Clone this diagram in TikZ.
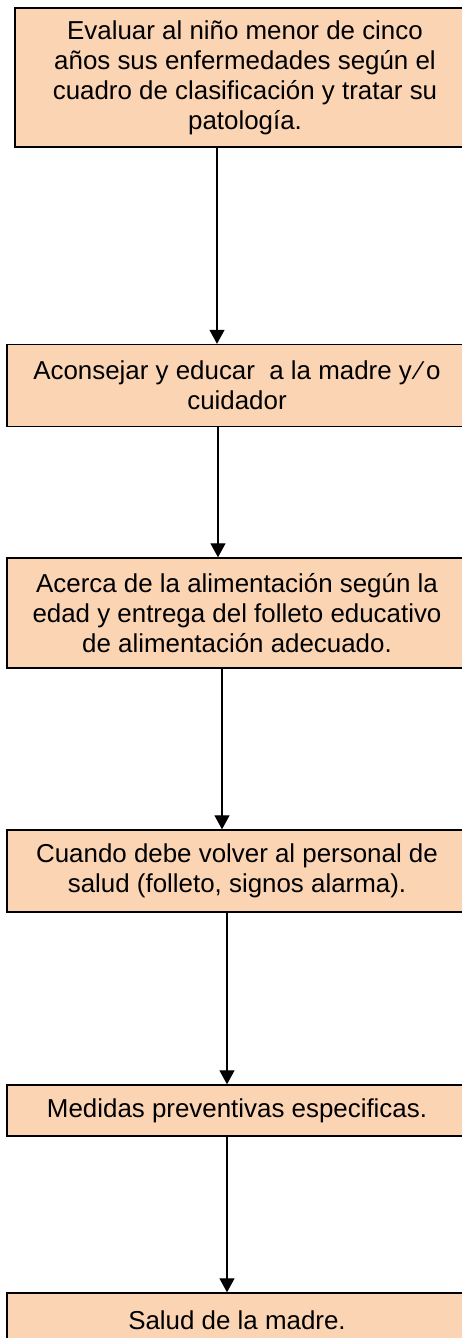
\documentclass[tikz,border=0pt]{standalone}
\usepackage{fontspec}
\setmainfont{Liberation Sans}
\usetikzlibrary{arrows.meta}
\definecolor{peach}{HTML}{FBD4B4}

\begin{document}
\begin{tikzpicture}[x=1pt,y=1pt,
    caja/.style={draw,line width=1.4pt,fill=peach,minimum width=460pt,inner sep=0pt,
        align=center,font=\fontsize{25.9pt}{30pt}\selectfont},
    flecha/.style={-{Triangle[width=15pt,length=14pt]},line width=1.3pt}]
        \useasboundingbox (0,0) rectangle (462,-1338);
        \node[caja,minimum height=139pt](b1)at(245,-77.5){Evaluar al niño menor de cinco\\años sus enfermedades según el\\cuadro de clasificación y tratar su\\patología.};
        \node[caja,minimum height=82pt](b2)at(237,-385.5){Aconsejar y educar \ a la madre y\kern5pt⁄\kern5pt o\\cuidador};
        \node[caja,minimum height=110pt](b3)at(237,-613){Acerca de la alimentación según la\\edad y entrega del folleto educativo\\de alimentación adecuado.};
        \node[caja,minimum height=82pt](b4)at(237,-871){Cuando debe volver al personal de\\salud (folleto, signos alarma).};
        \node[caja,minimum height=51pt](b5)at(237,-1110.5){Medidas preventivas especificas.};
        \node[caja,minimum height=54pt](b6)at(237,-1320){Salud de la madre.};

        \draw[flecha]([xshift=-28pt]b1.south)--([xshift=-20pt]b2.north);
        \draw[flecha]([xshift=-19pt]b2.south)--([xshift=-19pt]b3.north);
        \draw[flecha]([xshift=-15pt]b3.south)--([xshift=-15pt]b4.north);
        \draw[flecha]([xshift=-10pt]b4.south)--([xshift=-10pt]b5.north);
        \draw[flecha]([xshift=-10pt]b5.south)--([xshift=-10pt]b6.north);

    \end{tikzpicture}
\end{document}
